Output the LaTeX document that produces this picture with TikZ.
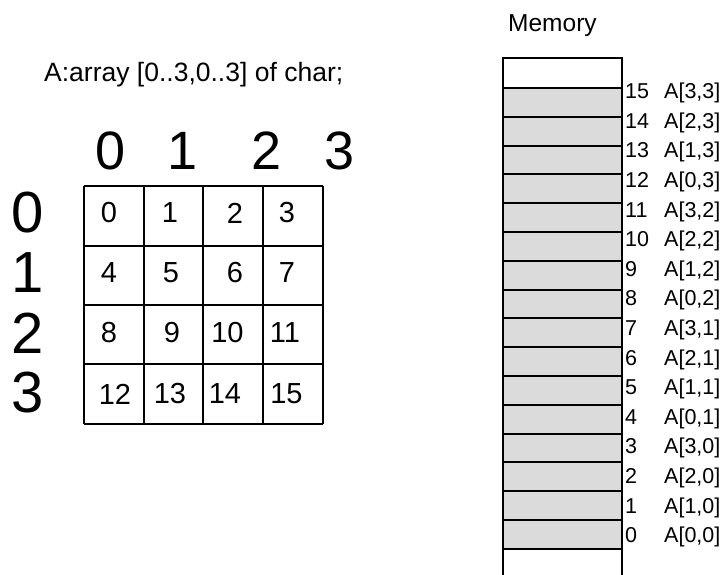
\documentclass[tikz,border=0pt]{standalone}
\usepackage{fontspec}
\setmainfont{Liberation Sans}
\begin{document}
\begin{tikzpicture}[x=1pt,y=-1pt,
  cellnum/.style={inner sep=0pt,font=\fontsize{29}{32}\selectfont},
  bignum/.style={inner sep=0pt},
  memlbl/.style={inner sep=0pt,anchor=base west,font=\fontsize{21.5}{24}\selectfont},
  gridline/.style={line width=2pt},
  memline/.style={line width=2pt}]
\useasboundingbox (0,0) rectangle (728,575);
% title
\node[inner sep=0pt,anchor=base west,font=\fontsize{26.5}{30}\selectfont] (title) at (44,81.7) {A:array [0..3,0..3] of char;};
% column labels
\foreach \c/\x in {0/111,1/183,2/267,3/340}
  \node[bignum,font=\fontsize{54}{60}\selectfont,text height=38pt,text depth=0pt,anchor=south] (col\c) at (\x,170) {\c};
% row labels
\foreach \r/\y in {0/213,1/273,2/333,3/393}
  \node[bignum,font=\fontsize{58}{64}\selectfont] (row\r) at (28,\y) {\r};
% grid
\foreach \x in {84,143.5,203,262.5,322.5}
  \draw[gridline] (\x,186) -- (\x,424);
\foreach \y in {186,245.7,305,363.5,424}
  \draw[gridline] (84,\y) -- (322.5,\y);
% cell numbers
\foreach \n/\x/\y in {0/109/213,1/170/213,2/235/213,3/287/213,
                      4/109/273,5/171/273,6/235/273,7/287/273,
                      8/109/333,9/172/333,10/227.5/333,11/285/333,
                      12/115/394,13/170/394,14/225/394,15/286.5/394}
  \node[cellnum] (cell\n) at (\x,\y) {\n};
% memory
\node[inner sep=0pt,anchor=base west,font=\fontsize{24.5}{28}\selectfont] (memtitle) at (508,32) {Memory};
\foreach \k in {0,...,15}
  \fill[gray!28] (503,{88+\k*28.8}) rectangle (622,{88+(\k+1)*28.8});
\foreach \k in {0,...,16}
  \draw[memline] (503,{88+\k*28.8}) -- (622,{88+\k*28.8});
\draw[memline] (503,575) -- (503,58) -- (622,58) -- (622,575);
% memory labels
\foreach \i/\a in {15/{3,3},14/{2,3},13/{1,3},12/{0,3},11/{3,2},10/{2,2},9/{1,2},8/{0,2},
                   7/{3,1},6/{2,1},5/{1,1},4/{0,1},3/{3,0},2/{2,0},1/{1,0},0/{0,0}}
{
  \node[memlbl] (addr\i) at (625,{535-\i*29.6+7.7}) {\i};
  \node[memlbl] (elem\i) at (664,{535-\i*29.6+7.7}) {A[\a]};
}
\end{tikzpicture}
\end{document}
